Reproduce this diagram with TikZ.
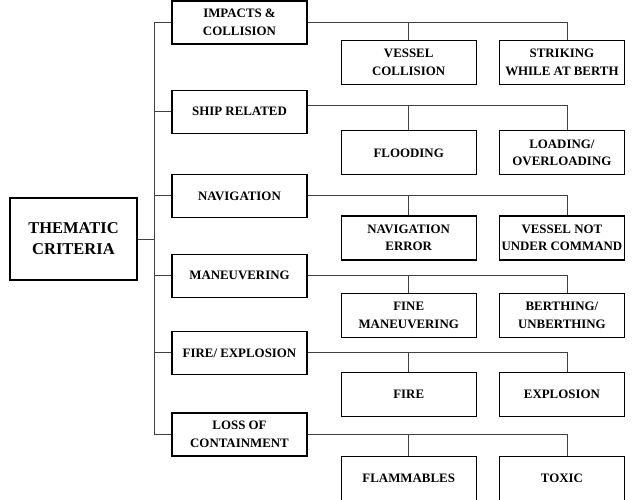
\documentclass[tikz,border=0pt]{standalone}
\usepackage{fontspec}
\setmainfont{Liberation Serif}
\usetikzlibrary{positioning}

\begin{document}
\begin{tikzpicture}[
    x=1pt, y=1pt,
    node distance=20pt,
    box/.style={
        rectangle,
        draw=black,
        line width=1.2pt,
        align=center,
        inner sep=2pt,
        font=\bfseries\fontsize{12.9}{17.5}\selectfont
    },
    catbox/.style={box, minimum width=135pt, minimum height=43pt},
    leftbox/.style={box, minimum width=135pt, minimum height=44pt},
    rightbox/.style={box, minimum width=125pt, minimum height=44pt},
    rootbox/.style={box, minimum width=127pt, minimum height=82pt,
        font=\bfseries\fontsize{16.5}{21}\selectfont},
    link/.style={draw=black!75, line width=0.9pt}
]
\useasboundingbox (0,0) rectangle (634,-499);

% Main criterion
\node[rootbox] (root) at (73.5,-239) {THEMATIC\\CRITERIA};

% Categories
\node[catbox] (impact) at (239.5,-22.5) {IMPACTS \&\\COLLISION};
\node[catbox, below=45pt of impact] (ship) {SHIP RELATED};
\node[catbox, below=40pt of ship] (nav) {NAVIGATION};
\node[catbox, below=35.5pt of nav] (manv) {MANEUVERING};
\node[catbox, below=33pt of manv] (fire) {FIRE/ EXPLOSION};
\node[catbox, below=37.5pt of fire] (loss) {LOSS OF\\CONTAINMENT};

% Sub-criteria
\node[leftbox, below right=17pt and 33pt of impact.east] (collide) {VESSEL\\COLLISION};
\node[rightbox, right=22pt of collide] (strike) {STRIKING\\WHILE AT BERTH};
\node[leftbox, below right=18.5pt and 33pt of ship.east] (flood) {FLOODING};
\node[rightbox, right=22pt of flood] (overload) {LOADING/\\OVERLOADING};
\node[leftbox, below right=19.5pt and 33pt of nav.east] (naverr) {NAVIGATION\\ERROR};
\node[rightbox, right=22pt of naverr] (nuc) {VESSEL NOT\\UNDER COMMAND};
\node[leftbox, below right=17pt and 33pt of manv.east] (finemanv) {FINE\\MANEUVERING};
\node[rightbox, right=22pt of finemanv] (berth) {BERTHING/\\UNBERTHING};
\node[leftbox, below right=19pt and 33pt of fire.east] (flame) {FIRE};
\node[rightbox, right=22pt of flame] (explode) {EXPLOSION};
\node[leftbox, below right=21pt and 33pt of loss.east] (flammable) {FLAMMABLES};
\node[rightbox, right=22pt of flammable] (toxic) {TOXIC};

% Trunk to the categories
\coordinate (trunk) at ([xshift=-17pt]impact.west);
\draw[link] (impact.west) -- (trunk) |- (loss.west);
\draw[link] (ship.west) -- (ship.west -| trunk);
\draw[link] (nav.west) -- (nav.west -| trunk);
\draw[link] (manv.west) -- (manv.west -| trunk);
\draw[link] (fire.west) -- (fire.west -| trunk);
\draw[link] (root.east) -- (root.east -| trunk);

% Branches to the sub-criteria
\coordinate (shipout) at ([yshift=6pt]ship.east);
\draw[link] (impact.east) -| ([xshift=5.5pt]strike.north);
\draw[link] (collide.north) -- (collide.north |- impact.east);
\draw[link] (shipout) -| ([xshift=5.5pt]overload.north);
\draw[link] (flood.north) -- (flood.north |- shipout);
\draw[link] (nav.east) -| ([xshift=5.5pt]nuc.north);
\draw[link] (naverr.north) -- (naverr.north |- nav.east);
\draw[link] (manv.east) -| ([xshift=5.5pt]berth.north);
\draw[link] (finemanv.north) -- (finemanv.north |- manv.east);
\draw[link] (fire.east) -| ([xshift=5.5pt]explode.north);
\draw[link] (flame.north) -- (flame.north |- fire.east);
\draw[link] (loss.east) -| ([xshift=5.5pt]toxic.north);
\draw[link] (flammable.north) -- (flammable.north |- loss.east);

\end{tikzpicture}
\end{document}
